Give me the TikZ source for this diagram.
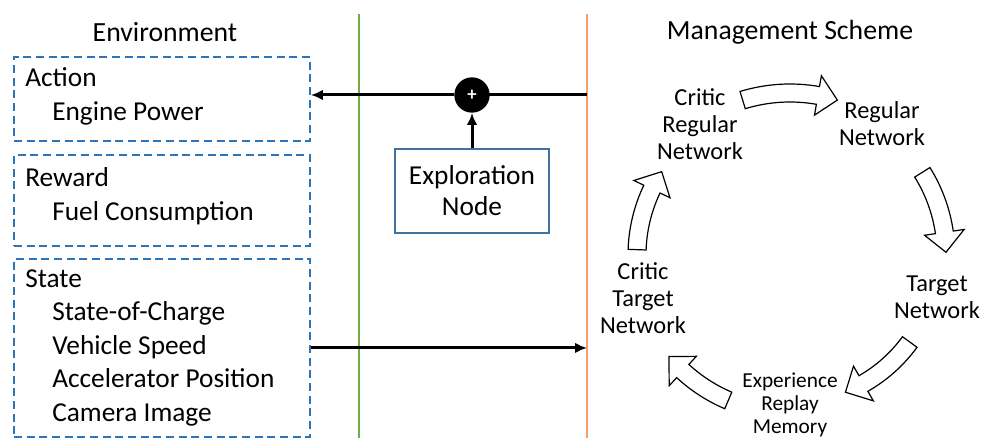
\documentclass[tikz,border=0pt]{standalone}
\usepackage{fontspec}
\setmainfont{Carlito}
\usetikzlibrary{positioning,arrows.meta}

\definecolor{envblue}{HTML}{2E75B6}
\definecolor{explblue}{HTML}{41719C}
\definecolor{envgreen}{HTML}{70AD47}
\definecolor{schemeorange}{HTML}{F4A067}

% hollow curved arrow round the ring: radius, start angle, end angle
\newcommand{\cyclearrow}[3]{%
  \draw[ringarrow,shift={(ringcentre)}]
    ({#2}:{#1+9}) arc[start angle={#2},end angle={#3-1146/#1},radius={#1+9}]
    -- ({#3-1146/#1}:{#1+20}) -- ({#3}:{#1}) -- ({#3-1146/#1}:{#1-20})
    -- ({#3-1146/#1}:{#1-9}) arc[start angle={#3-1146/#1},end angle={#2},radius={#1-9}]
    -- cycle;}

\begin{document}
\begin{tikzpicture}[x=0.75pt,y=-0.75pt,
	titletext/.style={font=\fontsize{20.8}{24}\selectfont},
	envbox/.style={draw=envblue,dash pattern=on 6pt off 3.5pt,line width=1.4pt,minimum width=222pt,anchor=north west,inner sep=0pt},
	headtext/.style={font=\fontsize{20.5}{24}\selectfont,inner sep=0pt,anchor=base west,text height=14pt,text depth=4pt},
	flowline/.style={line width=2.25pt},
	plusnode/.style={circle,fill=black,text=white,minimum size=26.5pt,inner sep=0pt,font=\bfseries\fontsize{14}{14}\selectfont},
	explbox/.style={draw=explblue,line width=1pt,minimum width=115.5pt,minimum height=63pt,align=center,font=\fontsize{20.5}{23.25}\selectfont},
	nettext/.style={align=center,inner sep=0pt,font=\fontsize{18.3}{20.25}\selectfont},
	memtext/.style={align=center,inner sep=0pt,font=\fontsize{16}{17.25}\selectfont},
	ringarrow/.style={draw=black,fill=white,line width=0.9pt,line join=miter}]
		\useasboundingbox (0,0) rectangle (984,438);

		% environment side
		\node[titletext]											(envtitle)		at (165,32)	{Environment};
		\node[envbox,minimum height=63pt]							(actionbox)		at (13,56)	{};
		\node[envbox,minimum height=68.25pt]						(rewardbox)		at (13,154)	{};
		\node[envbox,minimum height=133.5pt]						(statebox)		at (13,258)	{};

		\node[headtext]												(action)		at (25,87)	{Action};
		\node[headtext,below right=6.75pt and 20.25pt of action.south west]	(enginepower)	{Engine Power};
		\node[headtext]												(reward)		at (25,187)	{Reward};
		\node[headtext,below right=6.75pt and 20.25pt of reward.south west]	(fuel)			{Fuel Consumption};
		\node[headtext]												(state)			at (25,287)	{State};
		\node[headtext,below right=6.75pt and 20.25pt of state.south west]	(soc)			{State-of-Charge};
		\node[headtext,below right=6.75pt and 0pt of soc.south west]		(speed)			{Vehicle Speed};
		\node[headtext,below right=6.75pt and 0pt of speed.south west]		(pedal)			{Accelerator Position};
		\node[headtext,below right=6.75pt and 0pt of pedal.south west]		(camera)		{Camera Image};

		% borders
		\coordinate (greentop) at (359,14);
		\coordinate (greenbot) at (359,438);
		\coordinate (orangetop) at (587,14);
		\coordinate (orangebot) at (587,438);
		\draw[envgreen,line width=1.3pt] (greentop) -- (greenbot);
		\draw[schemeorange,line width=1.3pt] (orangetop) -- (orangebot);

		% exploration
		\coordinate (schemeout) at (587,95);
		\node[explbox]												(explore)		at (472,191)	{Exploration\\Node};
		\draw[flowline] (schemeout) -- (472,95);
		\node[plusnode]												(plus)			at (472,95)	{+};
		\draw[flowline,-{Latex[length=9pt,width=8pt]}] (plus) -- (plus -| actionbox.east);
		\draw[flowline,-{Latex[length=9pt,width=8pt]}] (explore) -- (plus);
		\draw[flowline,-{Latex[length=9pt,width=8pt]}] (statebox.east) -- (statebox.east -| schemeout);

		% management scheme
		\node[titletext]											(schemetitle)	at (790,32)	{Management Scheme};
		\coordinate (ringcentre) at (790,255);
		\node[nettext]												(criticreg)		at (700,124)	{Critic\\Regular\\Network};
		\node[nettext]												(regnet)		at (882,124)	{Regular\\Network};
		\node[nettext]												(targetnet)		at (937,297)	{Target\\Network};
		\node[memtext]												(replay)		at (790,405)	{Experience\\Replay\\Memory};
		\node[nettext]												(critictarget)	at (643,298)	{Critic\\Target\\Network};

		\cyclearrow{162}{253}{287}
		\cyclearrow{156}{328}{359}
		\cyclearrow{148}{36}{68}
		\cyclearrow{158}{113}{140}
		\cyclearrow{153}{182}{213}
	\end{tikzpicture}
\end{document}
